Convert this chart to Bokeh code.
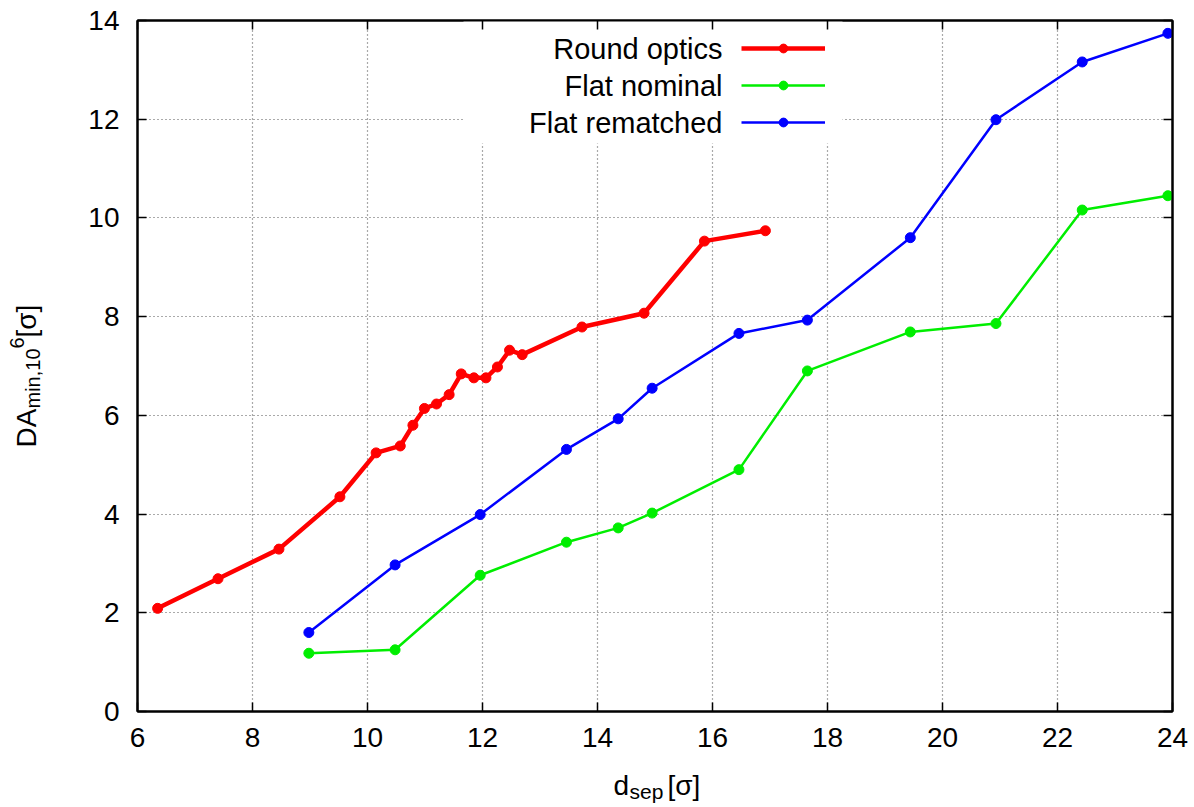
from math import pi
from bokeh.plotting import figure
from bokeh.layouts import row, column
from bokeh.models import (Range1d, LinearAxis, FixedTicker, Label, BoxAnnotation,
                          Legend, LegendItem, CustomLabelingPolicy)
from bokeh.embed import file_html
from bokeh.resources import INLINE

# ---- data ----
round_x = [6.35, 7.40, 8.46, 9.52, 10.15, 10.57, 10.79, 10.99, 11.20, 11.42,
           11.63, 11.85, 12.06, 12.26, 12.47, 12.69, 13.73, 14.81, 15.86, 16.92]
round_y = [2.09, 2.69, 3.29, 4.35, 5.24, 5.38, 5.80, 6.14, 6.23, 6.42,
           6.84, 6.76, 6.76, 6.98, 7.32, 7.23, 7.79, 8.07, 9.53, 9.74]

flat_x = [8.98, 10.48, 11.96, 13.46, 14.36, 14.95, 16.46, 17.65, 19.44, 20.93, 22.43, 23.92]
nominal_y = [1.18, 1.25, 2.76, 3.43, 3.72, 4.02, 4.90, 6.90, 7.69, 7.86, 10.16, 10.45]
rematched_y = [1.60, 2.97, 3.99, 5.31, 5.93, 6.55, 7.66, 7.93, 9.60, 11.99, 13.16, 13.74]

series_names = ["Round optics", "Flat nominal", "Flat rematched"]
x_ticks = [6, 8, 10, 12, 14, 16, 18, 20, 22, 24]
y_ticks = [0, 2, 4, 6, 8, 10, 12, 14]

FONT = "Liberation Sans"
BIG = "28px"
SMALL = "20px"

LEFT_W = 60     # strip holding the y-axis title
BOTTOM_H = 40   # strip holding the x-axis title

p = figure(width=1194 - LEFT_W, height=807 - BOTTOM_H,
           x_range=Range1d(6, 24), y_range=Range1d(0, 14),
           output_backend="svg", toolbar_location=None, title=None,
           min_border_left=137 - LEFT_W, min_border_right=22, min_border_top=20,
           min_border_bottom=96 - BOTTOM_H)
p.background_fill_color = "white"
p.border_fill_color = "white"
p.outline_line_color = "black"
p.outline_line_width = 2

# axes
for ax in p.xaxis:
    ax.ticker = FixedTicker(ticks=x_ticks)
for ax in p.yaxis:
    ax.ticker = FixedTicker(ticks=y_ticks)
for ax in list(p.xaxis) + list(p.yaxis):
    ax.major_tick_in = 9
    ax.major_tick_out = 0
    ax.minor_tick_line_color = None
    ax.major_tick_line_width = 1.5
    ax.axis_line_width = 2
    ax.major_label_text_font = FONT
    ax.major_label_text_font_size = BIG
    ax.major_label_text_color = "black"
p.xaxis.major_label_standoff = 16
p.yaxis.major_label_standoff = 18

# mirrored tick marks on top and right (labels suppressed)
hide_all = "const n = indices.size; for (let i = 0; i < n; i++) { indices.unset(i) } return indices"
top_ax = LinearAxis(ticker=FixedTicker(ticks=x_ticks), major_tick_in=9, major_tick_out=0,
                    minor_tick_line_color=None, major_label_text_font_size="1px",
                    major_label_policy=CustomLabelingPolicy(code=hide_all),
                    major_label_standoff=0, axis_line_width=2, major_tick_line_width=1.5)
right_ax = LinearAxis(ticker=FixedTicker(ticks=y_ticks), major_tick_in=9, major_tick_out=0,
                      minor_tick_line_color=None, major_label_text_font_size="1px",
                      major_label_policy=CustomLabelingPolicy(code=hide_all),
                      major_label_standoff=0, axis_line_width=2, major_tick_line_width=1.5)
p.add_layout(top_ax, "above")
p.add_layout(right_ax, "right")

# grid
p.xgrid.ticker = FixedTicker(ticks=x_ticks)
p.ygrid.ticker = FixedTicker(ticks=y_ticks)
p.grid.grid_line_color = "#555555"
p.grid.grid_line_dash = "1 3"
p.grid.grid_line_width = 1.2

# opaque key box (covers grid)
key_box = BoxAnnotation(left=326, right=705, top=691, bottom=568,
                        left_units="screen", right_units="screen",
                        top_units="screen", bottom_units="screen",
                        fill_color="white", fill_alpha=1.0, line_color=None,
                        level="underlay")
p.add_layout(key_box)

# series
r_line = p.line(round_x, round_y, line_color="#ff0000", line_width=4.5)
r_pts = p.scatter(round_x, round_y, size=10, color="#ff0000")
n_line = p.line(flat_x, nominal_y, line_color="#00ee00", line_width=2.5)
n_pts = p.scatter(flat_x, nominal_y, size=10, color="#00ee00")
b_line = p.line(flat_x, rematched_y, line_color="#0000ff", line_width=2.5)
b_pts = p.scatter(flat_x, rematched_y, size=10, color="#0000ff")

# legend samples (text drawn to their left, gnuplot style)
legend = Legend(items=[LegendItem(label=" ", renderers=[r_line, r_pts]),
                       LegendItem(label=" ", renderers=[n_line, n_pts]),
                       LegendItem(label=" ", renderers=[b_line, b_pts])],
                location=(604, 578), glyph_width=84, glyph_height=22,
                label_height=22, label_width=0, label_standoff=0,
                label_text_font_size="10px", spacing=15, padding=0, margin=0,
                border_line_color=None, background_fill_alpha=0)
p.add_layout(legend)

for i, name in enumerate(series_names):
    p.add_layout(Label(x=585, y=663 - 37 * i, x_units="screen", y_units="screen",
                       text=name, text_font=FONT, text_font_size="29px",
                       text_align="right", text_baseline="middle", text_color="black"))


def strip(w, h):
    f = figure(width=w, height=h, x_range=Range1d(0, 1), y_range=Range1d(0, 1),
               x_axis_type=None, y_axis_type=None, output_backend="svg",
               toolbar_location=None, title=None, min_border=0)
    f.outline_line_color = None
    f.background_fill_color = "white"
    f.border_fill_color = "white"
    f.grid.visible = False
    return f


# y axis title: DA_{min,10^6}[sigma]
left_fig = strip(LEFT_W, 807 - BOTTOM_H)
ylab = [("DA", 26, 447, BIG), ("min,10", 32, 408, SMALL),
        ("6", 16, 348, SMALL), ("[σ]", 26, 337, BIG)]
for t, cx, cy, fs in ylab:
    left_fig.add_layout(Label(x=cx, y=cy, x_units="canvas", y_units="canvas", text=t,
                              angle=pi / 2, text_font=FONT, text_font_size=fs,
                              text_align="left", text_baseline="alphabetic",
                              text_color="black"))

# x axis title: d_{sep}[sigma]
bottom_fig = strip(1194, BOTTOM_H)
xlab = [("d", 613, 18, BIG), ("sep", 629, 24, "21px"), ("[σ]", 667, 18, BIG)]
for t, cx, cy, fs in xlab:
    bottom_fig.add_layout(Label(x=cx, y=cy, x_units="canvas", y_units="canvas", text=t,
                                text_font=FONT, text_font_size=fs,
                                text_align="left", text_baseline="alphabetic",
                                text_color="black"))

layout = column(row(left_fig, p, spacing=0), bottom_fig, spacing=0)
open("out.html", "w").write(file_html(layout, INLINE))
